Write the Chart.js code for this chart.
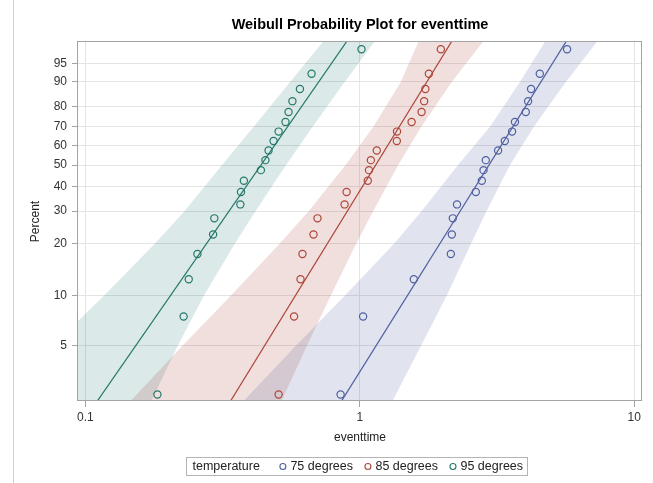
<!DOCTYPE html>
<html>
<head>
<meta charset="utf-8">
<script src="https://cdn.jsdelivr.net/npm/chart.js@4.4.1/dist/chart.umd.min.js"></script>
<style>
  html, body { margin: 0; padding: 0; background: #ffffff; }
  canvas { display: block; }
</style>
</head>
<body>
<canvas id="chart" width="653" height="483"></canvas>
<script>
// ---- data -------------------------------------------------------------
const groups = ['75 degrees', '85 degrees', '95 degrees'];
const legendTitle = 'temperature';

// plotting positions (percent) for the 20 ordered failures in each group
const rankPct = [2.5, 7.5, 12.5, 17.5, 22.5, 27.5, 32.5, 37.5, 42.5, 47.5,
                 52.5, 57.5, 62.5, 67.5, 72.5, 77.5, 82.5, 87.5, 92.5, 97.5];

// ordered event times
const time75 = [0.851, 1.028, 1.573, 2.146, 2.164, 2.182, 2.260, 2.647, 2.783, 2.823,
                2.877, 3.190, 3.375, 3.587, 3.676, 4.025, 4.103, 4.207, 4.526, 5.691];
const time85 = [0.506, 0.576, 0.608, 0.618, 0.678, 0.701, 0.880, 0.895, 1.069, 1.080,
                1.097, 1.153, 1.364, 1.366, 1.544, 1.679, 1.715, 1.733, 1.785, 1.973];
const time95 = [0.183, 0.228, 0.238, 0.256, 0.292, 0.295, 0.367, 0.369, 0.378, 0.436,
                0.453, 0.465, 0.485, 0.506, 0.536, 0.550, 0.568, 0.605, 0.667, 1.014];

// fitted Weibull parameters per group
const weibullShape = [2.752, 2.796, 2.479];
const weibullScale = [3.375, 1.302, 0.5059];

// pointwise confidence band edges (event time) at these percent levels
const bandPct = [2.28, 5, 10, 20, 30, 50, 70, 90, 98.33];
const band75Lo = [0.3770, 0.5859, 0.8810, 1.3323, 1.6785, 2.2793, 2.9785, 3.8371, 4.7206];
const band75Hi = [1.3155, 1.6727, 2.0730, 2.5420, 2.8940, 3.5260, 4.3070, 5.6430, 7.3020];
const band85Lo = [0.1461, 0.2263, 0.3386, 0.5100, 0.6508, 0.8878, 1.1199, 1.4115, 1.6334];
const band85Hi = [0.5186, 0.6421, 0.7834, 0.9694, 1.1182, 1.3800, 1.6749, 2.1652, 2.8060];
const band95Lo = [0.0480, 0.0760, 0.1168, 0.1790, 0.2296, 0.3148, 0.4103, 0.5581, 0.7331];
const band95Hi = [0.1739, 0.2172, 0.2702, 0.3502, 0.4166, 0.5385, 0.6731, 0.8819, 1.1293];

// axes
const yTickPct = [5, 10, 20, 30, 40, 50, 60, 70, 80, 90, 95];
const yRangePct = [2.28, 98.33];
const xTicks = [0.1, 1, 10];
const xRange = [0.094, 10.67];

// ---- styling ----------------------------------------------------------
const FONT = '"Liberation Sans", Arial, Helvetica, sans-serif';
const lineColors = ['#4f5f9f', '#ad4639', '#24786a'];
const bandColors = ['rgba(68,86,148,0.16)', 'rgba(162,58,46,0.16)', 'rgba(1,102,94,0.14)'];

// Weibull probability scale: ln(-ln(1-p))
const weib = pct => Math.log(-Math.log(1 - pct / 100));

const times = [time75, time85, time95];
const bandsLo = [band75Lo, band85Lo, band95Lo];
const bandsHi = [band75Hi, band85Hi, band95Hi];

const datasets = [];

// confidence bands as closed polygons (lower edge up, upper edge back down)
groups.forEach((g, k) => {
  const pts = bandPct.map((p, i) => ({ x: bandsLo[k][i], y: weib(p) }));
  for (let i = bandPct.length - 1; i >= 0; i--) pts.push({ x: bandsHi[k][i], y: weib(bandPct[i]) });
  datasets.push({
    data: pts, order: 3, fill: 'shape', backgroundColor: bandColors[k],
    borderWidth: 0, borderColor: 'rgba(0,0,0,0)', pointRadius: 0, tension: 0
  });
});

// fitted lines from shape/scale
groups.forEach((g, k) => {
  const ends = [1, 99.5].map(p => ({
    x: weibullScale[k] * Math.pow(-Math.log(1 - p / 100), 1 / weibullShape[k]),
    y: weib(p)
  }));
  datasets.push({
    data: ends, order: 2, fill: false, borderColor: lineColors[k],
    borderWidth: 1.2, pointRadius: 0, tension: 0
  });
});

// observed failures
groups.forEach((g, k) => {
  datasets.push({
    label: g,
    data: times[k].map((t, i) => ({ x: t, y: weib(rankPct[i]) })),
    order: 1, showLine: false, fill: false,
    pointStyle: 'circle', pointRadius: 3.6, pointBorderWidth: 1.2,
    pointBorderColor: lineColors[k], pointBackgroundColor: 'rgba(0,0,0,0)'
  });
});

// ---- decorations: frame, title, group legend ---------------------------
const decorations = {
  id: 'decorations',
  beforeDraw(chart) {
    const ctx = chart.ctx;
    ctx.save();
    ctx.fillStyle = '#ffffff';
    ctx.fillRect(0, 0, chart.width, chart.height);
    ctx.strokeStyle = '#cfcfcf';
    ctx.lineWidth = 1;
    ctx.beginPath();
    ctx.moveTo(13.5, 0);
    ctx.lineTo(13.5, chart.height);
    ctx.stroke();
    ctx.restore();
  },
  afterDraw(chart) {
    const ctx = chart.ctx;
    const a = chart.chartArea;
    ctx.save();
    // plot frame
    ctx.strokeStyle = '#a3a3a3';
    ctx.lineWidth = 1;
    ctx.strokeRect(a.left - 0.5, a.top - 0.5, a.right - a.left, a.bottom - a.top);

    // title
    ctx.fillStyle = '#000000';
    ctx.font = 'bold 14.5px ' + FONT;
    ctx.textAlign = 'center';
    ctx.textBaseline = 'middle';
    ctx.fillText('Weibull Probability Plot for eventtime', (a.left + a.right) / 2, 25);

    // legend
    ctx.font = '12.5px ' + FONT;
    ctx.textAlign = 'left';
    const padL = 6, padR = 4, afterTitle = 20, r = 3, symGap = 4.5, itemGap = 12;
    const titleW = ctx.measureText(legendTitle).width;
    const itemW = groups.map(g => 2 * r + symGap + ctx.measureText(g).width);
    const total = padL + titleW + afterTitle + itemW.reduce((s, w) => s + w, 0) +
                  itemGap * (groups.length - 1) + padR;
    const boxTop = 457.5, boxH = 18, cy = boxTop + boxH / 2;
    let x = Math.round(356 - total / 2) + 0.5;
    ctx.strokeStyle = '#b4b4b4';
    ctx.strokeRect(x, boxTop, Math.round(total), boxH);
    ctx.fillStyle = '#222222';
    x += padL;
    ctx.fillText(legendTitle, x, cy + 0.5);
    x += titleW + afterTitle;
    groups.forEach((g, k) => {
      ctx.beginPath();
      ctx.arc(x + r, cy, r, 0, Math.PI * 2);
      ctx.strokeStyle = lineColors[k];
      ctx.lineWidth = 1.1;
      ctx.stroke();
      ctx.fillStyle = '#222222';
      ctx.fillText(g, x + 2 * r + symGap, cy + 0.5);
      x += itemW[k] + itemGap;
    });
    ctx.restore();
  }
};

Chart.defaults.font.family = FONT;
Chart.defaults.font.size = 12;
Chart.defaults.color = '#333333';

new Chart(document.getElementById('chart'), {
  type: 'line',
  data: { datasets },
  plugins: [decorations],
  options: {
    responsive: false,
    animation: false,
    devicePixelRatio: 1,
    layout: { padding: { left: 0, top: 42, right: 11, bottom: 0 } },
    plugins: { legend: { display: false }, tooltip: { enabled: false }, title: { display: false } },
    scales: {
      x: {
        type: 'logarithmic',
        min: xRange[0], max: xRange[1],
        afterBuildTicks: s => { s.ticks = xTicks.map(v => ({ value: v })); },
        afterFit: s => { s.height = 82; },
        ticks: {
          autoSkip: false, maxRotation: 0, padding: 3,
          font: { size: 12 }, color: '#333333',
          callback: (v, i) => String(xTicks[i])
        },
        grid: { color: '#e4e4e4', tickColor: '#a3a3a3', tickLength: 6, drawTicks: true },
        border: { display: false },
        title: { display: true, text: 'eventtime', font: { size: 12 }, color: '#222222', padding: { top: 0, bottom: 38 } }
      },
      y: {
        type: 'linear',
        min: weib(yRangePct[0]), max: weib(yRangePct[1]),
        afterBuildTicks: s => { s.ticks = yTickPct.map(p => ({ value: weib(p) })); },
        afterFit: s => { s.width = 78; },
        ticks: {
          autoSkip: false, padding: 5,
          font: { size: 12 }, color: '#333333',
          callback: (v, i) => String(yTickPct[i])
        },
        grid: { color: '#e4e4e4', tickColor: '#a3a3a3', tickLength: 6, drawTicks: true },
        border: { display: false },
        title: { display: true, text: 'Percent', font: { size: 12 }, color: '#222222', padding: { top: 28, bottom: 0 } }
      }
    }
  }
});
</script>
</body>
</html>
